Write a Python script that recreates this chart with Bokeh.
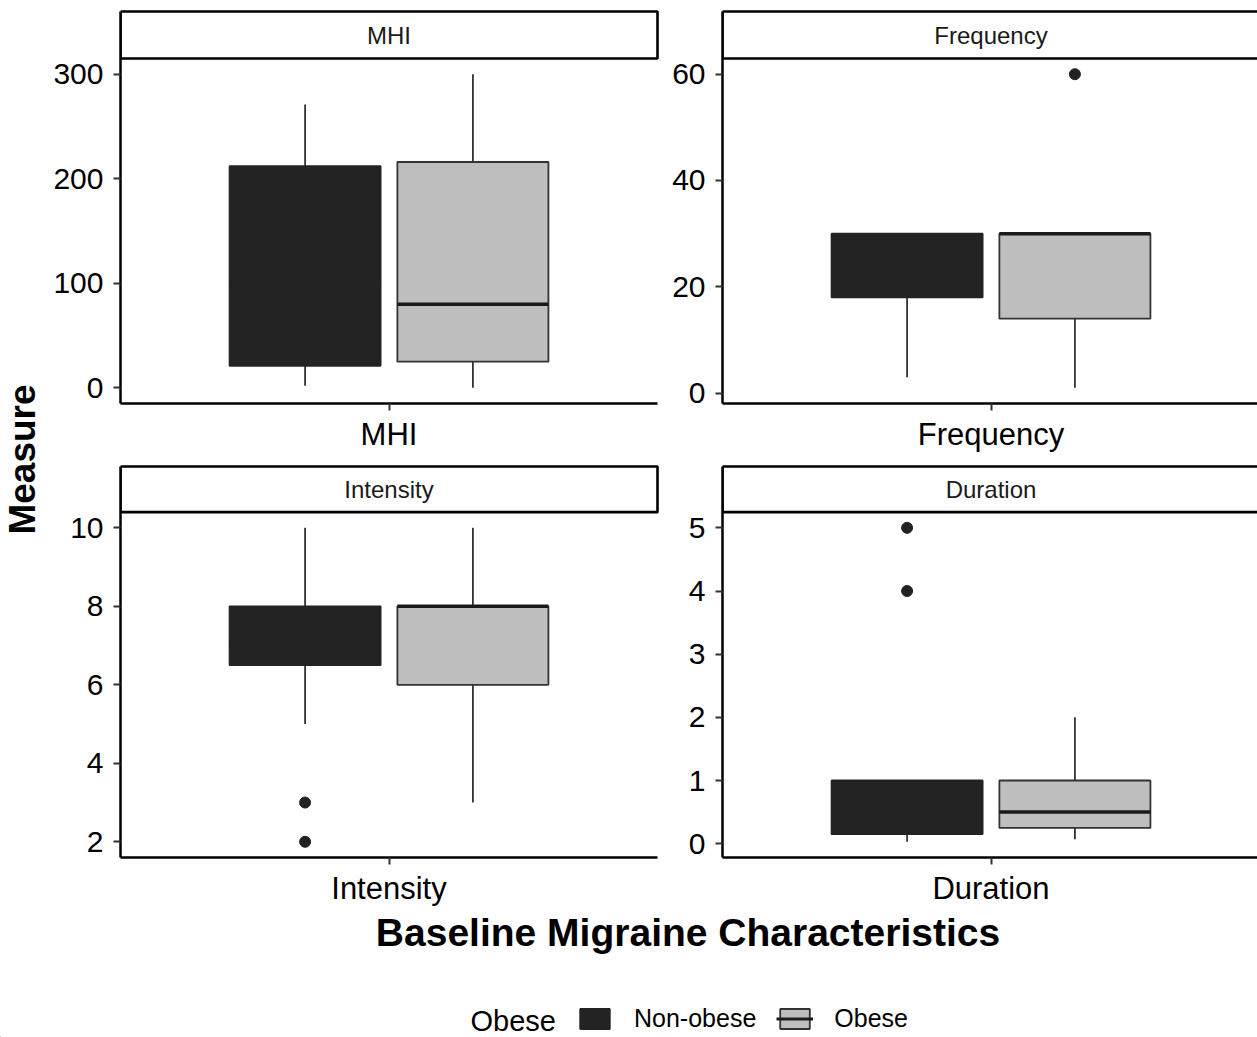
import math
from bokeh.plotting import figure
from bokeh.layouts import row, column
from bokeh.models import (Range1d, FixedTicker, Label, Legend, LegendItem,
                          ColumnDataSource)
from bokeh.core.properties import value
from bokeh.embed import file_html
from bokeh.resources import INLINE

# ---------------- data ----------------
panels = ["MHI", "Frequency", "Intensity", "Duration"]
groups = ["Non-obese", "Obese"]
legend_title = "Obese"
x_title = "Baseline Migraine Characteristics"
y_title = "Measure"

# [lower whisker, Q1, median, Q3, upper whisker]
mhi_nonobese = [2, 21, 100, 212, 271]
mhi_obese = [0, 25, 80, 216, 300]
freq_nonobese = [3, 18, 25, 30, 30]
freq_obese = [1, 14, 30, 30, 30]
int_nonobese = [5, 6.5, 7, 8, 10]
int_obese = [3, 6, 8, 8, 10]
dur_nonobese = [0.03, 0.15, 0.5, 1, 1]
dur_obese = [0.07, 0.25, 0.5, 1, 2]

mhi_out_nonobese = []
mhi_out_obese = []
freq_out_nonobese = []
freq_out_obese = [60]
int_out_nonobese = [3, 2]
int_out_obese = []
dur_out_nonobese = [4, 5]
dur_out_obese = []

mhi_ticks = [0, 100, 200, 300]
freq_ticks = [0, 20, 40, 60]
int_ticks = [2, 4, 6, 8, 10]
dur_ticks = [0, 1, 2, 3, 4, 5]

# ---------------- style / layout ----------------
FONT = "Liberation Sans"
fill_colors = ["#232323", "#bebebe"]
outline_colors = ["#232323", "#333333"]
median_colors = ["#232323", "#1a1a1a"]
whisker_color = "#333333"
dodge = [-0.1875, 0.1875]
box_w = 0.3375
cat_x = 1.0
X_DOMAIN = (0.4, 1.6)
PANEL_PX_W = 537

COLS = [dict(fig_x0=45, frame_l=120, strip_r=657, frame_r=660, fig_x1=665),
        dict(fig_x0=665, frame_l=722, strip_r=1262, frame_r=1257, fig_x1=1257)]
ROWS = [dict(fig_y0=0, strip_t=11, strip_b=58, panel_b=403, fig_y1=463),
        dict(fig_y0=463, strip_t=466, strip_b=512, panel_b=860, fig_y1=908)]
PAGE_H = 1037


def expand(vals):
    lo, hi = min(vals), max(vals)
    d = (hi - lo) * 0.05
    return lo - d, hi + d


def make_panel(name, stats, outliers, ticks, ci, ri):
    c, r = COLS[ci], ROWS[ri]
    vals = [v for s in stats for v in s] + [v for o in outliers for v in o]
    lo, hi = expand(vals)
    xu = (X_DOMAIN[1] - X_DOMAIN[0]) / PANEL_PX_W
    x0 = X_DOMAIN[0]
    x1 = x0 + (c["frame_r"] - c["frame_l"]) * xu
    strip_right = x0 + (c["strip_r"] - c["frame_l"]) * xu
    yu = (hi - lo) / (r["panel_b"] - r["strip_b"])
    y_end = hi + (r["strip_b"] - r["fig_y0"]) * yu
    strip_top = hi + (r["strip_b"] - r["strip_t"]) * yu

    p = figure(width=c["fig_x1"] - c["fig_x0"], height=r["fig_y1"] - r["fig_y0"],
               x_range=Range1d(x0, x1), y_range=Range1d(lo, y_end),
               output_backend="svg", toolbar_location=None,
               min_border_left=c["frame_l"] - c["fig_x0"],
               min_border_right=c["fig_x1"] - c["frame_r"],
               min_border_top=0,
               min_border_bottom=r["fig_y1"] - r["panel_b"])
    p.outline_line_color = None
    p.xgrid.visible = False
    p.ygrid.visible = False
    p.background_fill_color = "white"
    p.border_fill_color = "white"

    xs = [cat_x + d for d in dodge]
    src = ColumnDataSource(dict(
        x=xs,
        lower=[s[0] for s in stats], q1=[s[1] for s in stats],
        med=[s[2] for s in stats], q3=[s[3] for s in stats],
        upper=[s[4] for s in stats],
        left=[x - box_w / 2 for x in xs], right=[x + box_w / 2 for x in xs],
        fill=fill_colors, edge=outline_colors, medc=median_colors))
    p.segment(x0="x", y0="q3", x1="x", y1="upper", source=src,
              line_color=whisker_color, line_width=1.8)
    p.segment(x0="x", y0="q1", x1="x", y1="lower", source=src,
              line_color=whisker_color, line_width=1.8)
    p.vbar(x="x", width=box_w, bottom="q1", top="q3", source=src,
           fill_color="fill", line_color="edge", line_width=1.8)
    p.segment(x0="left", y0="med", x1="right", y1="med", source=src,
              line_color="medc", line_width=3.5)
    for gx, o in zip(xs, outliers):
        if o:
            p.scatter(x=[gx] * len(o), y=o, size=11, fill_color="#222222",
                      line_color="#222222")

    # facet strip
    p.quad(left=[x0], right=[strip_right], bottom=[hi], top=[strip_top],
           fill_color="white", line_color="black", line_width=2.6)
    p.text(x=[cat_x], y=[(hi + strip_top) / 2], text=[name],
           text_align="center", text_baseline="middle",
           text_font=value(FONT), text_font_size="24px", text_color="#1a1a1a")

    # axes
    for ax in (p.xaxis[0], p.yaxis[0]):
        ax.axis_line_width = 2.5
        ax.axis_line_color = "black"
        ax.major_tick_line_width = 2
        ax.major_tick_line_color = "#333333"
        ax.major_tick_out = 7
        ax.major_tick_in = 0
        ax.minor_tick_line_color = None
        ax.major_label_text_font = FONT
        ax.major_label_text_color = "black"
    p.xaxis.ticker = FixedTicker(ticks=[cat_x])
    p.xaxis.major_label_overrides = {cat_x: name}
    p.xaxis.major_label_text_font_size = "31px"
    p.xaxis.major_label_standoff = 6
    p.xaxis.bounds = (x0, strip_right)
    p.yaxis.ticker = FixedTicker(ticks=ticks)
    p.yaxis.major_label_text_font_size = "30px"
    p.yaxis.major_label_standoff = 10
    p.yaxis.bounds = (lo, strip_top)
    return p


p_mhi = make_panel(panels[0], [mhi_nonobese, mhi_obese],
                   [mhi_out_nonobese, mhi_out_obese], mhi_ticks, 0, 0)
p_freq = make_panel(panels[1], [freq_nonobese, freq_obese],
                    [freq_out_nonobese, freq_out_obese], freq_ticks, 1, 0)
p_int = make_panel(panels[2], [int_nonobese, int_obese],
                   [int_out_nonobese, int_out_obese], int_ticks, 0, 1)
p_dur = make_panel(panels[3], [dur_nonobese, dur_obese],
                   [dur_out_nonobese, dur_out_obese], dur_ticks, 1, 1)


def blank_fig(w, h):
    f = figure(width=w, height=h, x_range=Range1d(0, w), y_range=Range1d(0, h),
               output_backend="svg", toolbar_location=None,
               x_axis_location=None, y_axis_location=None,
               min_border_left=0, min_border_right=0,
               min_border_top=0, min_border_bottom=0)
    f.outline_line_color = None
    f.xgrid.visible = False
    f.ygrid.visible = False
    return f


# y-axis title column
ylw, ylh = 45, 908
p_ylab = blank_fig(ylw, ylh)
p_ylab.add_layout(Label(x=22, y=ylh - 459, text=y_title, angle=math.pi / 2,
                        text_align="center", text_baseline="middle",
                        text_font=FONT, text_font_style="bold",
                        text_font_size="37px", text_color="black"))

# bottom: x title + legend
bw, bh = 1257, PAGE_H - 908
p_bot = blank_fig(bw, bh)
p_bot.add_layout(Label(x=687.5, y=bh - 24, text=x_title,
                       text_align="center", text_baseline="middle",
                       text_font=FONT, text_font_style="bold",
                       text_font_size="39px", text_color="black"))
p_bot.add_layout(Label(x=470, y=PAGE_H - 1020, text=legend_title,
                       text_align="left", text_baseline="middle",
                       text_font=FONT, text_font_size="29px", text_color="black"))

off = ColumnDataSource(dict(x=[-1000], b=[-1000], t=[-999], x0=[-1001], x1=[-999], y=[-1000]))
r_no = p_bot.vbar(x="x", bottom="b", top="t", width=1, source=off,
                  fill_color=fill_colors[0], line_color=outline_colors[0], line_width=1.8)
r_ob = p_bot.vbar(x="x", bottom="b", top="t", width=1, source=off,
                  fill_color=fill_colors[1], line_color=outline_colors[1], line_width=1.8)
r_ob_med = p_bot.segment(x0="x0", y0="y", x1="x1", y1="y", source=off,
                         line_color=median_colors[1], line_width=3)
legend = Legend(items=[LegendItem(label=groups[0], renderers=[r_no]),
                       LegendItem(label=groups[1], renderers=[r_ob, r_ob_med])],
                orientation="horizontal",
                location=(576, 4), glyph_width=37, glyph_height=25,
                label_standoff=21, spacing=20, padding=0, margin=0,
                border_line_color=None, background_fill_alpha=0,
                label_text_font=FONT, label_text_font_size="25px",
                label_text_color="black")
p_bot.add_layout(legend, "center")

layout = column(row(p_ylab, column(row(p_mhi, p_freq), row(p_int, p_dur))), p_bot)

open("out.html", "w").write(file_html(layout, INLINE))
